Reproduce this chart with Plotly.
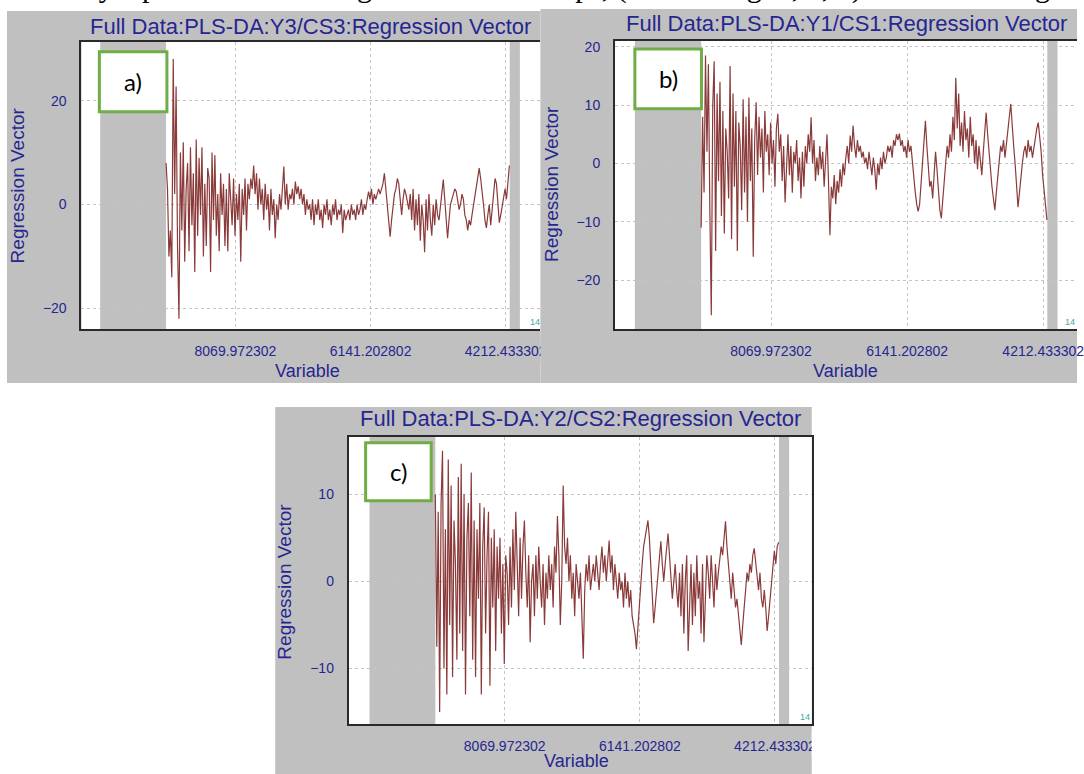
import numpy as np
import plotly.graph_objects as go

W, H = 1084, 774

# Wavenumber grid of the retained variables (cm-1, descending)
WN_FIRST = 9060.0
WN_LAST = 4160.0

# Excluded spectral regions shaded grey
EXCLUDED = [(10000.0, 9060.0), (4155.0, 4010.0)]

TICK_VALS = [8069.972302, 6141.202802, 4212.433302]
TICK_TEXT = ["8069.972302", "6141.202802", "4212.433302"]

# Body text line of the page running above the figure
PAGE_LINE = ("It is only a part of the total regression result maps, "
             "(refer to Fig. 1, 2, 3) in the three regression models.")

# Regression vector, class Y3 / CS3
y3_cs3 = [
    8, 3, -10, -5, -14, 28, 2, 22.7, -8, -22,
    10, -5, 12, -11, 3, 8, -9, 11, -4, 6,
    -13, 12.5, -6, 9, -2, 11, -10, 4, -8, 7,
    5, -13, 10, -3, 9.5, -6, 2, -9, 6, -2,
    4, -8, 3, -9, 6, 1, -4, 5, -6, 2,
    -3, 4, -11, 3, -2, 5, -5, 4, 1, 5,
    3, 7.5, 2, 6, -1, 5, 0, 3, -3, 4,
    -1, 2, -5, 3, -2, 1, -6.5, 0, -3, 2,
    -1, 3, 7.3, 0, 4, -1, 2, 1, 3, 0,
    4.4, 2, 3.5, 1, 3, 0, 2, -2, 1, -1,
    0, -3, 1, -4, 0, -2, 1, -3, -1, -4.5,
    0, -2, 1, -3, -1, -4, 0, -2, 1, -3,
    -1, -2, 0, -5.5, -1, -3, -2, -1, -3, 0,
    -2, -1, -3, 0, -2, -1, 1, -2, 0, -1,
    1, 2.5, 1, 3, 0, 2, 1, 2, 3, 2,
    3, 4, 6, 3, 1, -3, -6.2, -3, 0, 2,
    3, 5, 4, 1, -2, 1, 3, 2, 0, -1,
    2, -3, 3, -5, 1, -4, 2, -7, 0, -3,
    -9.2, 1, -5, 2, -3, -6, 0, -4, 1, -2,
    -3, 0, 2, 4.8, 1, -4, -6.5, -3, 0, 1,
    2, 3, 2.5, 1, -1, 0, 2, 1, -2, -3,
    -5, -3, -4, -2, 0, 2, 4, 6, 7, 5,
    3, 0, -3, -4.5, -2, 0, -4, -1, 3, 5,
    4, 1, -3.5, -2, 0, 2, 3, 1, 4, 7.5,
]

# Regression vector, class Y1 / CS1
y1_cs1 = [
    -11, 8, -5, 18.5, 2, 17, -8, -26, 10, 17.5,
    -15, 12, -3, 14, -9, 9, -12, 6, 2, -6,
    16.7, -13, 12, -4, 9, -15, 7, 3, -8, 11,
    -5, 8, -10, 11.3, -3, 6, -16, 4, 10.5, -2,
    8, 1, 6, -5, 9, 2, 5, -2, 7, 0,
    4, -4, 6, 8.5, 2, 5, -3, 3, -6.7, 1,
    5, -2, 3, -5, 2, 0, 4, -3, 1, -6,
    2, -4, 3, 0, 5, 2, 7.9, 0, 4, -3,
    1, -2, 3, -1, 2, -4, 0, 5, -3, -12.3,
    -4, -6, -2, -7, -3, -5, -1, -4, 0, -2,
    1, 3, 0, 4.8, 2, 6.5, 3, 1, 4, 2,
    3, 1, 2, 0, 1, -1, 2, 0, -2, 1,
    -1, -4.5, 0, -2, 1, -1, 2, 0, 1, 3,
    2, 3, 1, 4, 3, 5, 4, 5.1, 3, 4,
    2, 3, 1, 4, 2, 3, 0, -2, -5, -7,
    -8.2, -7, -3, 1, 4, 7.3, 3, -1, -4, -3,
    -6, -2, 2, -1, -5, -8, -9.4, -6, -2, 0,
    3, 1, 5, 2, 8, 4, 14.7, 6, 12, 3,
    7, 2, 9, 4, 6, 1, 8, 3, 5, 0,
    4, -1, 3, 0, -2, 2, 6, 8.7, 5, 1,
    -1, -4, -6, -8, -5, -2, 0, 3, 2, 4,
    1, 3, 5, 8, 10.2, 6, 3, 0, -4, -7.5,
    -5, -2, 0, 2, 3, 1, 4, 2, 3, 1,
    3, 4, 6, 7, 5, 2, -2, -5, -8, -9.7,
]

# Regression vector, class Y2 / CS2
y2_cs2 = [
    10, -7.5, 8, -15, 9, 15, -10, 6, -13, 14,
    -5, 11, -11, 7, 2, -9, 12, -6, 13.5, -8,
    10, -13, 5, 9, -4, 12.5, -9, 7, -11, 6,
    -2, 9, -13, 4, 8.5, -6, 3, 8, -12, 5,
    -3, 6, -8, 4, -2, 5, -6, 2, -9.5, 3,
    1, -5, 4, -3, 6, -1, 8, 2, -4, 5,
    -2, 4, 7, 1, -3, 3, -7, 0, 2, -4,
    3, -2, 4, 0, -3, 2, -5, 1, -2, 3,
    -1, 2, -3, 4, 1, 7.5, 3, -5, 0, 11,
    4, 2, 5, 0, 3, -2, 1, -4, 2, 0,
    -2, 1, -3, -8.9, -1, 2, 0, 3, -1, 1,
    2, 0, 3, 1, -1, 2, 4, 1, 3, 0,
    2, 4.7, 1, 3, -1, 2, 0, -2, 1, -1,
    0, -3, 1, -2, 0, -3, -1, -4, -5, -6,
    -7.8, -5, -3, 0, 2, 4, 5, 6, 7, 5,
    2, -1, -4.8, -3, -1, 1, 3, 4.6, 2, 0,
    2, 4, 5.5, 3, 1, -2, 0, 2, -1, -3,
    1, -4, 2, -6, 0, 3, -8, -3, 2, -5,
    1, -4, 3, -2, 0, -6, 2, -7, -1, 3,
    1, -2, 3, 0, -3, 2, -1, 1, 3, 4,
    3, 5, 6.9, 4, 2, 0, -2, 1, -1, -3,
    -2, -4, -5, -7.3, -5, -3, -1, 1, 0, 2,
    1, 3, 3.8, 2, 0, -1, 1, -2, -3, -1,
    -3, -5.7, -4, -2, 0, 2, 3.5, 2, 4, 4.5,
]

NAVY = "#262690"
LINE = "#8b3a3a"
GREY = "#c0c0c0"
GRID = "#c4c4c4"
GREEN = "#70ad47"
SANS = "Liberation Sans, Arial, sans-serif"


def px(x):
    return x / W


def py(y):
    return 1 - y / H


# Layout of each window: outer frame, plot box (pixels), axis ranges
panels = [
    dict(title="Full Data:PLS-DA:Y3/CS3:Regression Vector", values=y3_cs3,
         frame=(7, 9, 544, 382), box=(82, 40, 544, 328),
         xrange=(10267, 3716), yrange=(-24.0, 31.3), yticks=[-20, 0, 20],
         title_xy=(313, 25), ytitle_xy=(18, 184), xtitle_xy=(310, 370),
         tag="a)", tag_box=(100, 50, 168, 110), mark_xy=(538, 321),
         mirror_y=False),
    dict(title="Full Data:PLS-DA:Y1/CS1:Regression Vector", values=y1_cs1,
         frame=(544, 7, 1084, 382), box=(619, 39, 1084, 328),
         xrange=(10281, 3734), yrange=(-28.4, 21.0), yticks=[-20, -10, 0, 10, 20],
         title_xy=(852, 22), ytitle_xy=(555, 182), xtitle_xy=(851, 370),
         tag="b)", tag_box=(639, 47, 706, 107), mark_xy=(1077, 321),
         mirror_y=False),
    dict(title="Full Data:PLS-DA:Y2/CS2:Regression Vector", values=y2_cs2,
         frame=(277, 406, 817, 774), box=(351, 436, 817, 724),
         xrange=(10296, 3688), yrange=(-16.4, 16.6), yticks=[-10, 0, 10],
         title_xy=(584, 418), ytitle_xy=(286, 581), xtitle_xy=(580, 761),
         tag="c)", tag_box=(368, 442, 434, 500), mark_xy=(810, 717),
         mirror_y=True),
]

fig = go.Figure()
shapes = []
annotations = []

for k, p in enumerate(panels, start=1):
    xa = "x" if k == 1 else f"x{k}"
    ya = "y" if k == 1 else f"y{k}"
    n = len(p["values"])
    wn = np.linspace(WN_FIRST, WN_LAST, n)

    fig.add_trace(go.Scatter(
        x=wn, y=p["values"], mode="lines",
        line=dict(color=LINE, width=1.2),
        xaxis=xa, yaxis=ya, showlegend=False, hoverinfo="skip",
    ))

    x0, y0, x1, y1 = p["box"]
    fx0, fy0, fx1, fy1 = p["frame"]

    # window frame and white plotting area
    shapes.append(dict(type="rect", xref="paper", yref="paper", layer="below",
                       x0=px(fx0), x1=px(fx1), y0=py(fy1), y1=py(fy0),
                       fillcolor=GREY, line=dict(width=0)))
    shapes.append(dict(type="rect", xref="paper", yref="paper", layer="below",
                       x0=px(x0), x1=px(x1), y0=py(y1), y1=py(y0),
                       fillcolor="white", line=dict(width=0)))

    # excluded regions
    for a, b in EXCLUDED:
        shapes.append(dict(type="rect", xref=xa, yref=ya, layer="below",
                           x0=a, x1=b, y0=p["yrange"][0], y1=p["yrange"][1],
                           fillcolor=GREY, line=dict(width=0)))

    axis_x = dict(domain=[px(x0), px(x1)], range=list(p["xrange"]), anchor=ya,
                  tickvals=TICK_VALS, ticktext=TICK_TEXT, ticks="",
                  showgrid=True, gridcolor=GRID, griddash="dot", gridwidth=1,
                  showline=True, linecolor="#2a2a2a", linewidth=2, mirror=True,
                  zeroline=False, ticklabelstandoff=8, ticklabeloverflow="allow",
                  tickfont=dict(family=SANS, size=14, color=NAVY))
    axis_y = dict(domain=[py(y1), py(y0)], range=list(p["yrange"]), anchor=xa,
                  tickvals=p["yticks"], ticks="",
                  showgrid=True, gridcolor=GRID, griddash="dot", gridwidth=1,
                  showline=True, linecolor="#2a2a2a", linewidth=2,
                  mirror=p["mirror_y"], zeroline=False, ticklabelstandoff=10,
                  tickfont=dict(family=SANS, size=14, color=NAVY))
    fig.layout[("xaxis" if k == 1 else f"xaxis{k}")] = axis_x
    fig.layout[("yaxis" if k == 1 else f"yaxis{k}")] = axis_y

    tx, ty = p["title_xy"]
    annotations.append(dict(text=p["title"], x=px(tx), y=py(ty), xref="paper", yref="paper",
                            showarrow=False, xanchor="center", yanchor="middle",
                            font=dict(family=SANS, size=22, color=NAVY)))
    yx, yy = p["ytitle_xy"]
    annotations.append(dict(text="Regression Vector", x=px(yx), y=py(yy), xref="paper",
                            yref="paper", showarrow=False, textangle=-90,
                            xanchor="center", yanchor="middle",
                            font=dict(family=SANS, size=19, color=NAVY)))
    vx, vy = p["xtitle_xy"]
    annotations.append(dict(text="Variable", x=px(vx), y=py(vy), xref="paper", yref="paper",
                            showarrow=False, xanchor="center", yanchor="middle",
                            font=dict(family=SANS, size=18, color=NAVY)))
    mx, my = p["mark_xy"]
    annotations.append(dict(text="14", x=px(mx), y=py(my), xref="paper", yref="paper",
                            showarrow=False, xanchor="center", yanchor="middle",
                            font=dict(family=SANS, size=9, color="#3fa7a7")))

    # panel tag box
    bx0, by0, bx1, by1 = p["tag_box"]
    shapes.append(dict(type="rect", xref="paper", yref="paper", layer="above",
                       x0=px(bx0), x1=px(bx1), y0=py(by1), y1=py(by0),
                       fillcolor="white", line=dict(color=GREEN, width=3)))
    annotations.append(dict(text=p["tag"], x=px((bx0 + bx1) / 2), y=py((by0 + by1) / 2),
                            xref="paper", yref="paper", showarrow=False,
                            xanchor="center", yanchor="middle",
                            font=dict(family="Lato, Carlito, sans-serif", size=24,
                                      color="black")))

# trim tick labels that run past their window edge
shapes.append(dict(type="rect", xref="paper", yref="paper", layer="above",
                   x0=px(544), x1=px(562), y0=py(362), y1=py(334),
                   fillcolor=GREY, line=dict(width=0)))
shapes.append(dict(type="rect", xref="paper", yref="paper", layer="above",
                   x0=px(817), x1=px(840), y0=py(756), y1=py(732),
                   fillcolor="white", line=dict(width=0)))

# page text line above the figure; only its lower edge reaches into the page
annotations.append(dict(text=PAGE_LINE, x=px(5), y=py(4.5), xref="paper", yref="paper",
                        showarrow=False, xanchor="left", yanchor="bottom",
                        font=dict(family="Liberation Serif, Times New Roman, serif",
                                  size=30, color="black")))

fig.update_layout(
    width=W, height=H,
    margin=dict(l=0, r=0, t=0, b=0),
    paper_bgcolor="white",
    plot_bgcolor="rgba(0,0,0,0)",
    shapes=shapes,
    annotations=annotations,
    showlegend=False,
)

fig.write_html("out.html")
